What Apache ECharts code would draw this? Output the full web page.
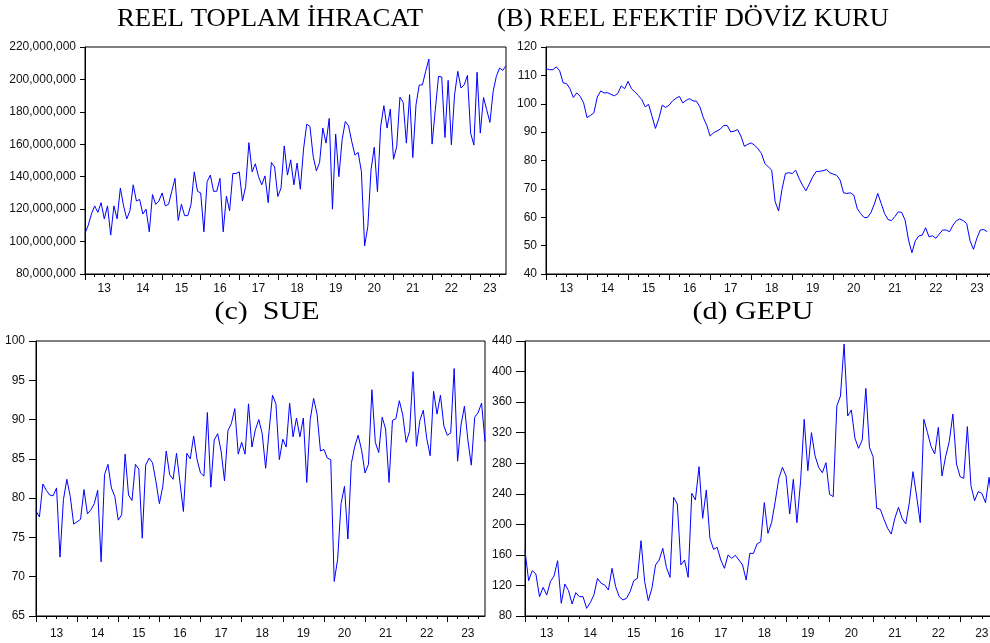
<!DOCTYPE html>
<html>
<head>
<meta charset="utf-8">
<script src="https://cdn.jsdelivr.net/npm/echarts@6/dist/echarts.min.js"></script>
<style>
  html, body { margin: 0; padding: 0; background: #fff; }
  #chart { width: 990px; height: 643px; }
</style>
</head>
<body>
<div id="chart"></div>
<script>
// aylar: 2013M01 - 2023M12
const years = ['2013', '2014', '2015', '2016', '2017', '2018', '2019', '2020', '2021', '2022', '2023']
const months = []
years.forEach(y => {
  for (let m = 1; m <= 12; m++) months.push(y + '-' + (m < 10 ? '0' + m : m))
})

// (A) reel toplam ihracat, milyon
const exportVals = [
  105, 110, 117, 122, 118, 124, 114, 122, 104, 122, 114, 133,
  122, 114, 119, 135, 125, 126, 117, 120, 106, 129, 123, 125,
  130, 122, 123, 131, 139, 113, 123, 116, 116, 123, 143, 131,
  130, 106, 137, 141, 131, 131, 139, 106, 128, 119, 142, 142,
  143, 125, 134, 161, 143, 148, 140, 135, 140.5, 124, 148.8, 146,
  127.8, 133, 159, 141, 150.4, 135, 148.4, 132.3, 157, 172.4, 171, 152.5,
  143.6, 148.8, 170, 160.7, 176, 120, 166.3, 140, 162.8, 174.1, 171.4, 161.7,
  153.3, 155, 143.2, 97.3, 109.2, 144.2, 158.2, 130.8, 171, 183.8, 170, 181.7,
  150.8, 158.6, 189.1, 185.8, 160.7, 190.6, 151.8, 184.4, 196.5, 196.7, 205, 212.6,
  160.1, 181.3, 201.9, 201.5, 164.2, 199.4, 159.7, 190.6, 205, 194.7, 196.7, 202.5,
  166.9, 159.5, 204.4, 166.9, 188.9, 181.3, 173.5, 192.6, 201.9, 207, 205.6, 208.5
]

// (B) reel efektif döviz kuru
const reerVals = [
  112.4, 112, 112, 113, 111.6, 107.4, 107.1, 105.3, 102.2, 103.8, 102.6, 100.3,
  95.1, 95.9, 96.8, 102.4, 104.5, 103.8, 103.9, 103.3, 102.8, 103.6, 106.3, 105.3,
  107.9, 105.3, 104.2, 102.9, 101.5, 98.9, 99.8, 95.6, 91.3, 94.8, 99.5, 98.7,
  99.5, 101, 101.9, 102.6, 100.3, 101.2, 101.8, 101, 100.9, 98.9, 95.1, 92.4,
  88.6, 89.8, 90.4, 91.1, 92.4, 92.3, 90.1, 90.3, 90.9, 88.6, 85, 85.7,
  86.2, 85.4, 84.1, 82.5, 78.9, 77.8, 76.6, 65.5, 62.2, 69.8, 75.4, 75.7,
  75.4, 76.6, 73.7, 71.3, 69.3, 71.7, 74.3, 76.1, 76.2, 76.4, 76.8, 75.7,
  75.2, 74.8, 73.1, 68.6, 68.4, 68.6, 67.8, 63.1, 61.3, 59.9, 59.9, 61.6,
  64.6, 68.4, 64.9, 61.3, 59.2, 58.8, 60.2, 61.9, 61.7, 59, 52, 47.5,
  51.7, 53.4, 53.7, 56.3, 53.1, 53.5, 52.6, 54.1, 55.5, 55.5, 54.9, 57.2,
  58.8, 59.4, 58.8, 57.8, 51.7, 48.7, 52.6, 55.5, 55.7, 54.9
]

// (c) SUE
const sueVals = [
  78.4, 77.6, 81.8, 81, 80.4, 80.3, 81.3, 72.5, 79.8, 82.4, 80.2, 76.7,
  77, 77.3, 81.1, 78, 78.5, 79.3, 81, 71.9, 83, 84.3, 81.3, 80.2,
  77.2, 77.9, 85.6, 80.4, 79.7, 84.3, 83.7, 74.9, 84.2, 85.1, 84.5, 82.1,
  79.3, 81.5, 86, 83, 82.4, 85.7, 82, 78.3, 85.7, 85, 87.9, 84.9,
  83.2, 82.8, 90.9, 81.4, 87.4, 88.2, 86, 82.2, 88.6, 89.5, 91.4, 85.6,
  87.1, 85.6, 92, 86.5, 88.7, 90, 88.2, 83.8, 88.5, 93.1, 92, 84.9,
  87.5, 86.5, 92.1, 87.8, 90.2, 87.8, 90.2, 82, 90, 92.7, 90.7, 86,
  86.2, 85.1, 84.9, 69.4, 72.2, 79.3, 81.5, 74.8, 84.4, 86.6, 88, 86.1,
  83.2, 84.3, 93.8, 87.1, 85.8, 90.3, 88.8, 82, 89.9, 90.1, 92.4, 90.6,
  87.1, 88.5, 96.1, 86.6, 89.9, 91.2, 87.6, 85.4, 93.6, 90.7, 93.1, 89.2,
  88, 88.3, 96.5, 84.7, 89.3, 91.7, 87.4, 84.2, 90.3, 90.9, 92.1, 87.2
]

// (d) GEPU
const gepuVals = [
  165.5, 126.3, 139.4, 135, 105.3, 117.5, 107.5, 125, 132.4, 152.4, 96.6, 121.9,
  113.2, 95.7, 110.5, 105.3, 105.3, 90, 97.5, 107.5, 129.3, 122.8, 120.6, 114,
  142.4, 118.4, 105.3, 101, 103.1, 111.9, 126.3, 129.3, 178.6, 125, 100.1, 116.2,
  146.8, 153.3, 168.6, 143.7, 130.6, 235.3, 226.6, 146.8, 153.3, 130.6, 240.6, 231.9,
  275.5, 207.9, 245, 181.7, 167.3, 169.9, 153.3, 142.4, 159.9, 155.5, 159.5, 153.3,
  146.8, 127.1, 162, 162, 174.3, 177.3, 228.4, 188.2, 202.2, 229.7, 260.2, 274.6,
  263.3, 213.5, 258.9, 202.2, 255.9, 337.5, 270.3, 320, 289.5, 274.6, 267.6, 280.7,
  239.3, 236.2, 354.9, 368, 436, 341.8, 349.7, 312.6, 299.5, 310.4, 378, 300.8,
  288.6, 221, 219.6, 206.6, 194.8, 187.3, 207.9, 222.3, 207.9, 200.4, 228.4, 269,
  237.1, 202.2, 337.5, 320, 301.7, 292.1, 327, 263.3, 288.6, 308.2, 344.4, 279,
  262.4, 260.2, 327.9, 250.2, 231, 242.8, 240.6, 228.4, 261.5, 220
]

const titles = ['REEL TOPLAM İHRACAT', '(B) REEL EFEKTİF DÖVİZ KURU', '(c)  SUE', '(d) GEPU']

const sans = 'Liberation Sans, Arial, sans-serif'
const serif = 'Liberation Serif, Times New Roman, serif'

// panel yerleşimi
const grids = [
  { left: 85, top: 47, width: 421, height: 227 },
  { left: 546, top: 47, width: 448, height: 227 },
  { left: 36, top: 341, width: 449, height: 275 },
  { left: 525, top: 341, width: 475, height: 275 }
]
const yRanges = [
  { min: 80, max: 220, interval: 20 },
  { min: 40, max: 120, interval: 10 },
  { min: 65, max: 100, interval: 5 },
  { min: 80, max: 440, interval: 40 }
]
const seriesData = [exportVals, reerVals, sueVals, gepuVals]
const labelMargins = [9, 9, 12, 12]
const yTickLen = [5, 5, 7, 9]

const chart = echarts.init(document.getElementById('chart'))

const xAxes = []
const yAxes = []
const series = []
grids.forEach((g, i) => {
  // yıllık etiketler + çeyrek çentikler
  xAxes.push({
    gridIndex: i,
    type: 'category',
    data: months,
    boundaryGap: false,
    position: 'bottom',
    axisLine: { lineStyle: { color: '#000', width: 1 } },
    axisTick: { interval: (idx) => idx % 3 === 0, length: 3, lineStyle: { color: '#000' } },
    axisLabel: {
      interval: (idx) => idx % 12 === 6,
      formatter: (v) => v.slice(2, 4),
      margin: labelMargins[i],
      color: '#111',
      fontFamily: sans,
      fontSize: 12
    },
    splitLine: { show: false }
  })
  // yıl başı çentikleri
  xAxes.push({
    gridIndex: i,
    type: 'category',
    data: months,
    boundaryGap: false,
    position: 'bottom',
    axisLine: { show: false },
    axisTick: { interval: (idx) => idx % 12 === 0, length: 6, lineStyle: { color: '#000' } },
    axisLabel: { show: false },
    splitLine: { show: false }
  })
  yAxes.push({
    gridIndex: i,
    type: 'value',
    min: yRanges[i].min,
    max: yRanges[i].max,
    interval: yRanges[i].interval,
    axisLine: { show: true, lineStyle: { color: '#000' } },
    axisTick: { show: true, length: yTickLen[i], lineStyle: { color: '#000' } },
    axisLabel: {
      margin: yTickLen[i] + 4,
      color: '#111',
      fontFamily: sans,
      fontSize: 12,
      formatter: i === 0 ? (v) => v + ',000,000' : (v) => v
    },
    splitLine: { show: false }
  })
  series.push({
    type: 'line',
    xAxisIndex: i * 2,
    yAxisIndex: i,
    data: seriesData[i],
    symbol: 'none',
    lineStyle: { color: '#0000ff', width: 1 },
    silent: true
  })
})

// başlıklar biraz yatay gerilmiş
const titlePos = [
  { x: 270, y: 6, size: 26, sx: 1.03 },
  { x: 693, y: 6, size: 26, sx: 1.02 },
  { x: 267, y: 300, size: 25, sx: 1.2 },
  { x: 753, y: 300, size: 25, sx: 1.2 }
]

const option = {
  animation: false,
  backgroundColor: '#fff',
  grid: grids.map(g => Object.assign({
    show: true, borderColor: '#000', borderWidth: 1, containLabel: false, outerBoundsMode: 'none'
  }, g)),
  xAxis: xAxes,
  yAxis: yAxes,
  series: series,
  graphic: titles.map((t, i) => ({
    type: 'text',
    x: titlePos[i].x,
    y: titlePos[i].y,
    scaleX: titlePos[i].sx,
    style: {
      text: t,
      fill: '#000',
      font: titlePos[i].size + 'px ' + serif,
      textAlign: 'center',
      textVerticalAlign: 'top'
    }
  }))
}
chart.setOption(option)
window.addEventListener('resize', () => {
  chart.resize()
})
</script>
</body>
</html>
